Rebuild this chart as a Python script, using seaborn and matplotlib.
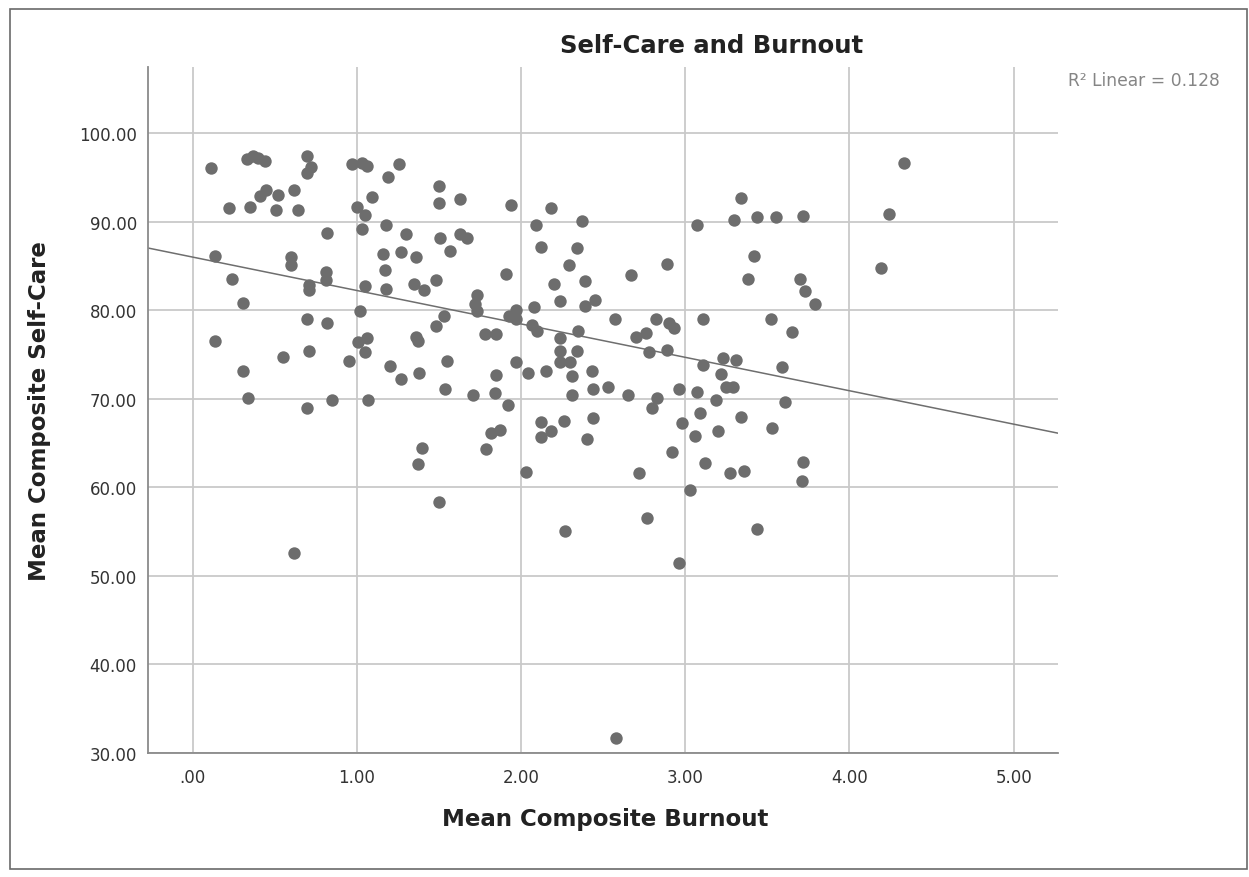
import matplotlib
matplotlib.use("Agg")
import numpy as np
import pandas as pd
import seaborn as sns
import matplotlib.pyplot as plt
from matplotlib.ticker import FuncFormatter, FixedLocator
from matplotlib.patches import Rectangle

# ---- data ----
burnout = [
    0.11, 0.33, 0.37, 0.40, 0.44, 0.70, 0.72, 0.70, 0.97, 1.03, 1.06, 0.45, 0.41, 0.52, 0.62,
    0.22, 0.35, 0.51, 0.64, 1.00, 1.05, 1.09, 1.03, 0.82, 0.14, 0.60, 0.60, 0.24, 0.81, 0.81,
    0.71, 0.71, 0.31, 1.05, 1.02,
    0.70, 0.82, 0.14, 1.06, 1.01, 1.05, 0.71, 0.55, 0.95, 0.31, 0.34, 0.85, 1.07, 0.70, 0.62,
    1.26, 1.19, 1.50, 1.50, 1.63, 1.94, 2.18, 2.37, 1.18, 1.30, 1.51, 1.63, 1.67, 2.09, 1.57,
    1.16, 1.27, 1.36, 2.12, 2.34, 1.17, 1.91, 2.29, 1.18, 1.35, 1.41, 1.48, 2.20, 2.39, 2.24,
    2.39, 2.45, 1.73, 1.72, 1.73, 1.53, 2.08, 1.93, 1.97,
    1.48, 1.36, 1.37, 1.78, 1.85, 1.97, 2.07, 2.10, 2.24, 2.35, 2.24, 2.34, 2.24, 2.30, 2.31,
    2.43, 1.20, 1.27, 1.38, 1.55, 1.54, 1.97, 2.04, 2.15, 1.85, 1.84, 1.71, 1.92, 2.31, 2.44,
    2.12, 2.18, 2.12, 2.26, 2.44, 2.40, 1.82, 1.87, 1.79, 1.40, 1.37, 2.03, 1.50, 2.27,
    3.34, 3.30, 3.44, 3.55, 3.72, 3.07, 2.89, 2.67, 3.42, 3.38, 3.70, 3.73, 3.79,
    2.57, 2.82, 2.90, 2.93, 3.11, 3.52, 3.65, 2.70, 2.76, 2.78, 2.89, 3.11, 3.23, 3.31, 3.22,
    3.59, 2.53, 2.65, 2.83, 2.80, 2.96, 3.07, 3.25, 3.29, 3.19, 3.61, 2.98, 3.09, 3.06, 3.20,
    3.34, 3.53, 2.92, 2.72, 3.12, 3.27, 3.36, 3.72, 3.71, 3.03, 2.77, 3.44, 2.96,
    4.33, 4.24, 4.19, 2.58,
]
selfcare = [
    96.1, 97.1, 97.4, 97.2, 96.9, 97.4, 96.2, 95.5, 96.5, 96.6, 96.3, 93.6, 92.9, 93.0, 93.6,
    91.6, 91.7, 91.3, 91.4, 91.7, 90.8, 92.8, 89.2, 88.8, 86.1, 86.0, 85.1, 83.6, 84.3, 83.4,
    82.9, 82.3, 80.8, 82.8, 79.9,
    79.0, 78.6, 76.6, 76.9, 76.4, 75.3, 75.4, 74.7, 74.3, 73.2, 70.1, 69.9, 69.9, 69.0, 52.6,
    96.5, 95.1, 94.0, 92.1, 92.6, 91.9, 91.6, 90.1, 89.7, 88.6, 88.2, 88.6, 88.2, 89.6, 86.7,
    86.4, 86.6, 86.0, 87.2, 87.1, 84.6, 84.1, 85.1, 82.4, 83.0, 82.3, 83.4, 83.0, 83.3, 81.1,
    80.5, 81.2, 81.7, 80.7, 79.9, 79.4, 80.4, 79.4, 80.0,
    78.2, 77.0, 76.5, 77.3, 77.3, 79.0, 78.4, 77.7, 76.9, 77.7, 75.4, 75.4, 74.2, 74.2, 72.6,
    73.1, 73.7, 72.2, 72.9, 74.3, 71.1, 74.2, 72.9, 73.1, 72.7, 70.7, 70.4, 69.3, 70.5, 71.1,
    67.4, 66.4, 65.7, 67.5, 67.9, 65.5, 66.2, 66.5, 64.4, 64.5, 62.6, 61.7, 58.4, 55.1,
    92.7, 90.2, 90.6, 90.6, 90.7, 89.6, 85.2, 84.0, 86.1, 83.5, 83.6, 82.2, 80.7,
    79.0, 79.0, 78.6, 78.0, 79.0, 79.0, 77.6, 77.0, 77.5, 75.3, 75.5, 73.8, 74.6, 74.4, 72.8,
    73.6, 71.3, 70.4, 70.1, 69.0, 71.1, 70.8, 71.3, 71.4, 69.9, 69.7, 67.3, 68.4, 65.8, 66.4,
    68.0, 66.7, 64.0, 61.6, 62.8, 61.6, 61.9, 62.9, 60.7, 59.7, 56.5, 55.3, 51.5,
    96.6, 90.9, 84.8, 31.7,
]
x_ticks = [0, 1, 2, 3, 4, 5]
y_ticks = [30, 40, 50, 60, 70, 80, 90, 100]
title = "Self-Care and Burnout"
x_label = "Mean Composite Burnout"
y_label = "Mean Composite Self-Care"
r2_text = "R\u00b2 Linear = 0.128"

df = pd.DataFrame({"burnout": burnout, "selfcare": selfcare})

sns.set_theme(style="whitegrid")
plt.rcParams['font.family'] = ['DejaVu Sans']

W, H = 1249, 878
fig = plt.figure(figsize=(W / 100, H / 100), dpi=100)
fig.patch.set_facecolor("white")

# outer frame
fig.add_artist(Rectangle((10 / W, 1 - 870 / H), 1237 / W, 860 / H, transform=fig.transFigure,
                         fill=False, edgecolor="#6a6a6a", linewidth=1.2))

left, right, top, bottom = 148, 1058, 68, 754
ax = fig.add_axes([left / W, 1 - bottom / H, (right - left) / W, (bottom - top) / H])
xlim = (-0.271, 5.27)
ylim = (30, 107.5)
ax.set_xlim(*xlim)
ax.set_ylim(*ylim)

sns.regplot(data=df, x="burnout", y="selfcare", ax=ax, ci=None, truncate=False,
            scatter_kws=dict(s=80, color="#6d6d6d", linewidths=0, alpha=1),
            line_kws=dict(color="#6e6e6e", linewidth=1.1))

ax.set_xlim(*xlim)
ax.set_ylim(*ylim)
ax.set_facecolor("white")
ax.xaxis.set_major_locator(FixedLocator(x_ticks))
ax.yaxis.set_major_locator(FixedLocator(y_ticks))
ax.xaxis.set_major_formatter(FuncFormatter(lambda v, p: f"{v:.2f}".lstrip("0") if abs(v) < 1 else f"{v:.2f}"))
ax.yaxis.set_major_formatter(FuncFormatter(lambda v, p: f"{v:.2f}"))
ax.grid(True, color="#c9c9c9", linewidth=1.3)
ax.set_axisbelow(True)
for s in ["top", "right"]:
    ax.spines[s].set_visible(False)
for s in ["left", "bottom"]:
    ax.spines[s].set_visible(True)
    ax.spines[s].set_color("#8a8a8a")
    ax.spines[s].set_linewidth(1.3)
ax.tick_params(axis="both", length=0, labelsize=12, labelcolor="#333333")
ax.tick_params(axis="y", pad=8)
ax.tick_params(axis="x", pad=11)
ax.set_xlabel("")
ax.set_ylabel("")

fig.text(712 / W, 1 - 46 / H, title, ha="center", va="center", fontsize=17.5,
         fontweight="bold", color="#222222")
fig.text(605 / W, 1 - 820 / H, x_label, ha="center", va="center", fontsize=16.5,
         fontweight="bold", color="#222222")
fig.text(40 / W, 1 - 411 / H, y_label, ha="center", va="center", rotation=90,
         fontsize=16.5, fontweight="bold", color="#222222")
fig.text(1068 / W, 1 - 81 / H, r2_text, ha="left", va="center", fontsize=12.3,
         color="#858585")

fig.savefig("out.png", dpi=100, facecolor="white")
